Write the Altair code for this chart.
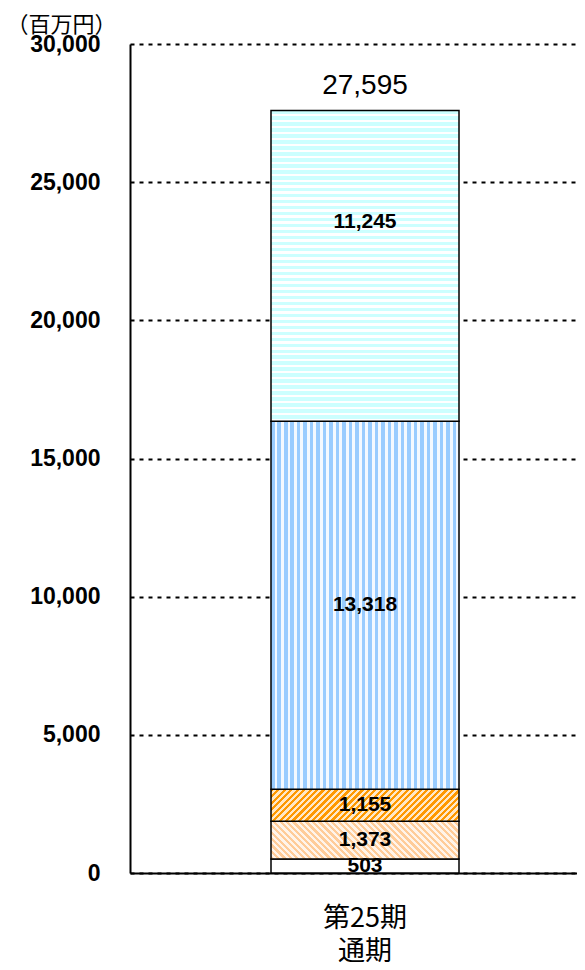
import altair as alt
import pandas as pd

# ---------------- data ----------------
categories = ["第25期 通期"]
segments = ["s1", "s2", "s3", "s4", "s5"]          # bottom -> top
values = [503, 1373, 1155, 13318, 11245]
totals = [27595]
y_ticks = [0, 5000, 10000, 15000, 20000, 25000, 30000]
y_max = 30000
unit_title = "（百万円）"

# ---------------- layout / style ----------------
PLOT_W, PLOT_H = 447, 829
BAR_W = 188
LEFT_GAP = 141
ppu = PLOT_H / y_max
pad_outer = (PLOT_W / BAR_W - 1) / 2
align = LEFT_GAP / (PLOT_W - BAR_W)

NUM_FONT = "Liberation Sans"
CJK_FONT = "Noto Sans CJK JP"


def stripe_grad(c_a, c_b, n, frac, x1, y1, x2, y2):
    stops = []
    for k in range(n):
        a = k / n
        m = (k + frac) / n
        b = (k + 1) / n
        stops += [{"offset": a, "color": c_a}, {"offset": m, "color": c_a},
                  {"offset": m, "color": c_b}, {"offset": b, "color": c_b}]
    return {"gradient": "linear", "x1": x1, "y1": y1, "x2": x2, "y2": y2, "stops": stops}


def diag_grad(c_a, c_b, h, period, direction):
    w = BAR_W
    s = w * (w + h) / (w * w + h * h)
    n = max(1, round((w + h) / period))
    if direction == "/":
        return stripe_grad(c_a, c_b, n, 0.5, 0, 0, s, s * h / w)
    return stripe_grad(c_a, c_b, n, 0.5, 0, 1, s, 1 - s * h / w)


h_px = [v * ppu for v in values]
fills = [
    "#ffffff",
    diag_grad("#ffcc99", "#fff4ea", h_px[1], 6.5, "\\"),
    diag_grad("#ff9900", "#ffe9c8", h_px[2], 6.5, "/"),
    stripe_grad("#99ccff", "#f4f9ff", max(1, round(BAR_W / 6.5)), 0.55, 0, 0, 1, 0),
    stripe_grad("#ccffff", "#ffffff", max(1, round(h_px[4] / 6.0)), 0.55, 0, 0, 0, 1),
]

df = pd.DataFrame({
    "cat": categories * len(values),
    "seg": segments,
    "value": values,
    "order": list(range(len(values))),
})
tot = pd.DataFrame({"cat": categories, "total": totals})

x_enc = alt.X(
    "cat:N", title=None,
    scale=alt.Scale(paddingInner=0, paddingOuter=pad_outer, align=align),
    axis=alt.Axis(
        labelAngle=0, ticks=False, domainColor="black", domainWidth=2,
        labelFont=CJK_FONT, labelFontSize=27, labelColor="black",
        labelExpr="split(datum.label, ' ')", labelLineHeight=33,
        labelPadding=32, labelBaseline="top",
    ),
)
y_axis = alt.Axis(
    values=y_ticks, format=",d", ticks=False, labelPadding=30,
    labelFont=NUM_FONT, labelFontSize=23, labelFontWeight="bold", labelColor="black",
    domainColor="black", domainWidth=2,
    grid=True, gridColor="black", gridDash=[4, 5], gridWidth=2, gridOpacity=1,
    title=unit_title, titleFont=CJK_FONT, titleFontSize=22, titleFontWeight="normal",
    titleColor="black", titleAngle=0, titleAlign="left", titleBaseline="middle",
    titleX=-124, titleY=-20,
)
y_scale = alt.Scale(domain=[0, y_max], nice=False)

base = alt.Chart(df).transform_stack(
    stack="value", groupby=["cat"], as_=["y0", "y1"],
    sort=[alt.SortField("order", order="ascending")],
)

layers = []
for seg, fill in zip(segments, fills):
    layers.append(
        base.transform_filter(alt.datum.seg == seg)
        .mark_bar(fill=fill, stroke="black", strokeWidth=1.5)
        .encode(x=x_enc, y=alt.Y("y1:Q", scale=y_scale, axis=y_axis), y2="y0:Q")
    )

lab = base.transform_calculate(mid="(datum.y0 + datum.y1) / 2")
text_style = dict(font=NUM_FONT, fontSize=21, fontWeight="bold", color="black",
                  baseline="middle", align="center")
layers.append(
    lab.transform_filter(alt.datum.seg != segments[-1])
    .mark_text(**text_style)
    .encode(x=x_enc, y=alt.Y("mid:Q", scale=y_scale, axis=y_axis),
            text=alt.Text("value:Q", format=","))
)
layers.append(
    lab.transform_filter(alt.datum.seg == segments[-1])
    .mark_text(dy=-44, **text_style)
    .encode(x=x_enc, y=alt.Y("mid:Q", scale=y_scale, axis=y_axis),
            text=alt.Text("value:Q", format=","))
)
layers.append(
    alt.Chart(tot).mark_text(font=NUM_FONT, fontSize=28, color="black",
                             baseline="alphabetic", align="center", dy=-16)
    .encode(x=x_enc, y=alt.Y("total:Q", scale=y_scale, axis=y_axis),
            text=alt.Text("total:Q", format=","))
)

chart = alt.layer(*layers).properties(
    width=PLOT_W, height=PLOT_H,
    autosize=alt.AutoSizeParams(type="none"),
    padding={"left": 122, "top": 36, "right": 0, "bottom": 89},
).configure_view(stroke="transparent")

chart.save("out.html", embed_options={"renderer": "svg", "actions": False})
